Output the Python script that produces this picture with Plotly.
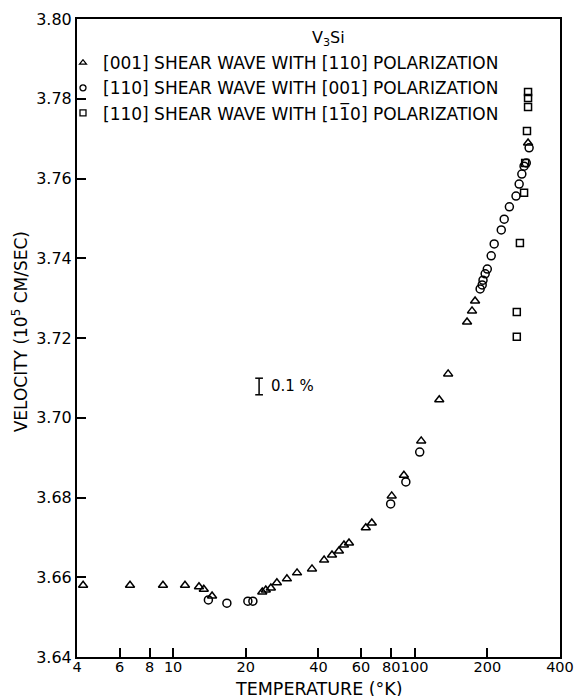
import plotly.graph_objects as go

# [001] shear wave, [110] polarization (triangles)
tri_T = [4.24, 6.63, 9.08, 11.2, 12.8, 13.4, 14.5, 23.4, 24.2, 25.4, 26.9, 29.6, 32.6, 37.6,
         42.2, 45.5, 48.6, 51.0, 53.5, 62.8, 66.5, 80.4, 90.3, 106.5, 126.5, 137.7, 164.9,
         172.9, 178.0, 295.0]
tri_V = [3.658, 3.658, 3.658, 3.658, 3.6576, 3.657, 3.6553, 3.6563, 3.6568, 3.6573, 3.6586,
         3.6596, 3.6611, 3.6621, 3.6643, 3.6656, 3.6666, 3.6681, 3.6686, 3.6724, 3.6736,
         3.6804, 3.6856, 3.6942, 3.7045, 3.7110, 3.7240, 3.7268, 3.7293, 3.7689]

# [110] shear wave, [001] polarization (circles)
cir_T = [14.0, 16.7, 20.4, 21.4, 79.6, 92.0, 105.0, 186.8, 190.5, 192.0, 196.0, 200.0, 207.6,
         213.6, 228.5, 235.0, 246.9, 263.0, 271.0, 278.0, 284.0, 290.0, 298.0]
cir_V = [3.6543, 3.6535, 3.654, 3.654, 3.6784, 3.6839, 3.6914, 3.7323, 3.7333, 3.7345, 3.7361,
         3.7373, 3.7406, 3.7436, 3.7471, 3.7498, 3.7529, 3.7556, 3.7586, 3.7611, 3.7631,
         3.7639, 3.7677]

# [110] shear wave, [1-10] polarization (squares)
sq_T = [295.0, 295.0, 295.0, 292.0, 287.0, 284.0, 273.0, 265.0, 265.0]
sq_V = [3.7817, 3.7802, 3.7779, 3.7719, 3.7639, 3.7564, 3.7438, 3.7265, 3.7203]

series_names = ["[001] SHEAR WAVE WITH [110] POLARIZATION",
                "[110] SHEAR WAVE WITH [001] POLARIZATION",
                "[110] SHEAR WAVE WITH [11\u03050] POLARIZATION"]

x_ticks = [4, 6, 8, 10, 20, 40, 60, 80, 100, 200, 400]
y_ticks = [3.64, 3.66, 3.68, 3.70, 3.72, 3.74, 3.76, 3.78, 3.80]

FONT = "DejaVu Sans"
symbols = ["triangle-up-open", "circle-open", "square-open"]
sizes = [8, 8, 7]

fig = go.Figure()
for xs, ys, sym, sz, nm in zip([tri_T, cir_T, sq_T], [tri_V, cir_V, sq_V], symbols, sizes,
                               series_names):
    fig.add_trace(go.Scatter(x=xs, y=ys, mode="markers", name=nm, showlegend=False,
                             marker=dict(symbol=sym, size=sz, color="black",
                                         line=dict(width=1.5))))
# legend entries (smaller symbols, as in the original key)
for sym, nm in zip(symbols, series_names):
    fig.add_trace(go.Scatter(x=[None], y=[None], mode="markers", name=nm,
                             marker=dict(symbol=sym, size=6, color="black",
                                         line=dict(width=1.3))))

fig.update_layout(
    width=575, height=696,
    margin=dict(l=77, r=15, t=19, b=39, autoexpand=False),
    paper_bgcolor="white", plot_bgcolor="white",
    font=dict(family=FONT, color="black", size=16),
    showlegend=True,
    legend=dict(x=-0.029, y=0.959, xanchor="left", yanchor="top",
                bgcolor="rgba(0,0,0,0)", font=dict(size=17, family=FONT),
                itemwidth=30, tracegroupgap=0),
    xaxis=dict(type="log", range=[0.60206, 2.60212], tickvals=x_ticks,
               ticktext=[str(v) for v in x_ticks], ticks="inside", ticklen=9,
               tickwidth=1.5, tickcolor="black", showline=True, linecolor="black",
               linewidth=2, mirror=True, showgrid=False, zeroline=False, tickangle=0,
               automargin=False, ticklabeloverflow="allow", ticklabelstandoff=-4,
               tickfont=dict(size=14.5, family=FONT)),
    yaxis=dict(range=[3.64, 3.80], tickvals=y_ticks, tickformat=".2f",
               ticks="inside", ticklen=9, tickwidth=1.5, tickcolor="black",
               showline=True, linecolor="black", linewidth=2, mirror=True,
               automargin=False, showgrid=False, zeroline=False,
               tickfont=dict(size=16, family=FONT)),
    annotations=[
        dict(text="TEMPERATURE (°K)", xref="paper", yref="paper", x=0.5, y=-0.0495,
             xanchor="center", yanchor="middle", showarrow=False, borderpad=0,
             font=dict(size=17.5, family=FONT)),
        dict(text="VELOCITY (10<sup>5</sup> CM/SEC)", xref="paper", yref="paper",
             x=-0.118, y=0.509, textangle=-90, xanchor="center", yanchor="middle",
             showarrow=False, font=dict(size=17, family=FONT)),
        dict(text="V<sub>3</sub>Si", xref="paper", yref="paper", x=0.52, y=0.97,
             xanchor="center", yanchor="middle", showarrow=False,
             font=dict(size=16, family=FONT)),
        dict(text="0.1 %", xref="paper", yref="paper", x=0.398, y=0.424,
             xanchor="left", yanchor="middle", showarrow=False,
             font=dict(size=15, family=FONT)),
    ],
    shapes=[
        dict(type="line", xref="paper", yref="paper", x0=0.377, x1=0.377, y0=0.411, y1=0.437,
             line=dict(color="black", width=1.5)),
        dict(type="line", xref="paper", yref="paper", x0=0.369, x1=0.385, y0=0.437, y1=0.437,
             line=dict(color="black", width=1.5)),
        dict(type="line", xref="paper", yref="paper", x0=0.369, x1=0.385, y0=0.411, y1=0.411,
             line=dict(color="black", width=1.5)),
    ],
)

fig.write_html("out.html")
